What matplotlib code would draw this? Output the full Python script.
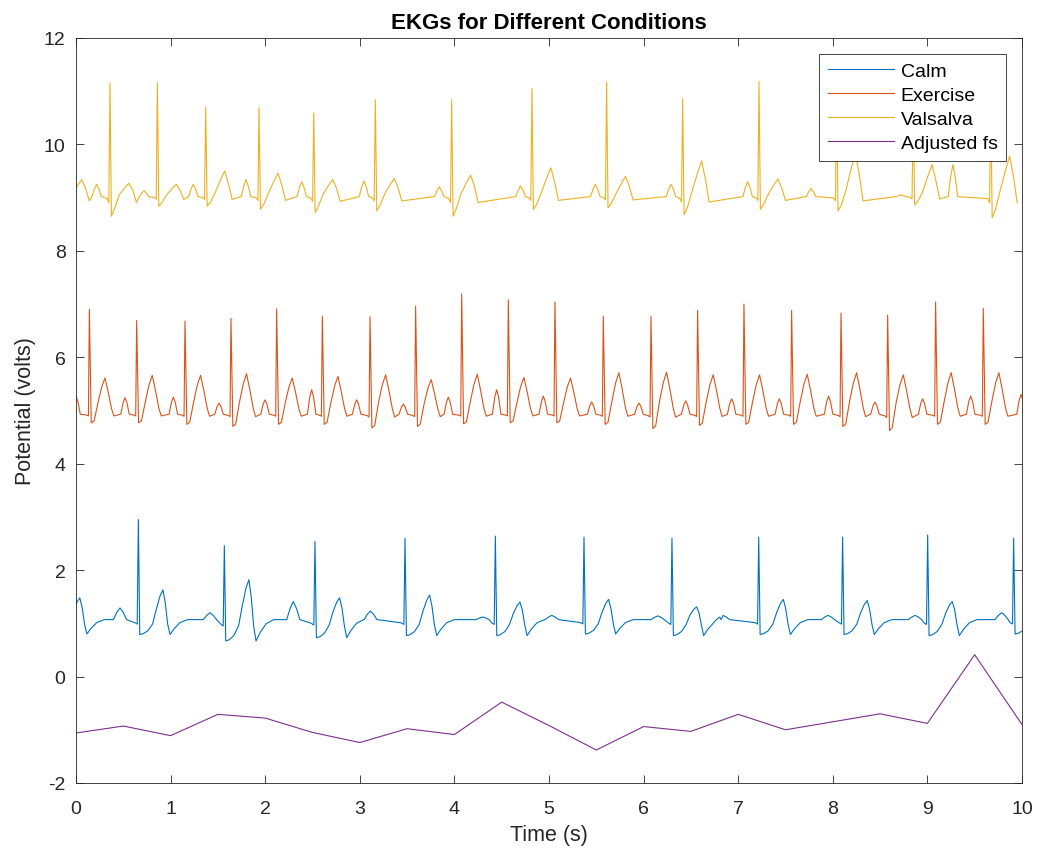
import numpy as np
import matplotlib.pyplot as plt

plt.rcParams['font.family'] = ['Liberation Sans', 'DejaVu Sans']
plt.rcParams['axes.unicode_minus'] = False

# ---- Calm (blue) ----
calm_base = 1.07
calm_r_t = [-0.22, 0.659, 1.568, 2.526, 3.478, 4.433, 5.370, 6.300, 7.217, 8.104, 9.003, 9.912]
calm_r_v = [2.60, 2.95, 2.46, 2.54, 2.60, 2.64, 2.62, 2.60, 2.62, 2.62, 2.66, 2.60]
calm_s_v = [0.80, 0.79, 0.67, 0.73, 0.77, 0.77, 0.80, 0.77, 0.79, 0.79, 0.77, 0.80]
calm_t_v = [1.48, 1.63, 1.82, 1.48, 1.53, 1.40, 1.45, 1.31, 1.45, 1.43, 1.41, 1.40]
calm_p_t = [-0.45, 0.465, 1.416, 2.297, 3.112, 4.300, 5.030, 6.150, 6.840, 7.950, 8.870, 9.785]
calm_p_v = [1.10, 1.29, 1.20, 1.41, 1.23, 1.12, 1.15, 1.14, 1.15, 1.15, 1.15, 1.20]

# ---- Exercise (orange) ----
ex_base = 4.93
ex_r_t = [0.141, 0.641, 1.152, 1.638, 2.121, 2.604, 3.108, 3.590, 4.077, 4.570, 5.063,
          5.574, 6.078, 6.571, 7.061, 7.565, 8.087, 8.580, 9.087, 9.591, 10.12]
ex_r_v = [6.90, 6.69, 6.68, 6.73, 6.91, 6.77, 6.76, 6.96, 7.19, 7.08, 7.04,
          6.77, 6.77, 6.88, 7.00, 6.88, 6.83, 6.79, 7.04, 6.92, 6.90]
ex_s_v = [4.77, 4.77, 4.74, 4.70, 4.74, 4.74, 4.67, 4.70, 4.75, 4.77, 4.77,
          4.74, 4.66, 4.72, 4.74, 4.74, 4.70, 4.62, 4.74, 4.74, 4.75]
ex_t_v = [5.61, 5.66, 5.66, 5.69, 5.61, 5.64, 5.67, 5.58, 5.68, 5.62, 5.61,
          5.71, 5.72, 5.67, 5.67, 5.68, 5.71, 5.67, 5.71, 5.71, 5.65]
ex_p_t = [0.000, 0.518, 1.029, 1.512, 1.998, 2.491, 2.967, 3.460, 3.936, 4.447, 4.940,
          5.451, 5.951, 6.445, 6.931, 7.435, 7.956, 8.446, 8.950, 9.458, 9.990]
ex_p_v = [5.27, 5.24, 5.25, 5.14, 5.20, 5.39, 5.20, 5.12, 5.25, 5.39, 5.27,
          5.16, 5.14, 5.18, 5.22, 5.22, 5.27, 5.16, 5.22, 5.27, 5.30]

# ---- Valsalva (yellow) ----
va_base = 9.02
va_r_t = [-0.14, 0.359, 0.860, 1.371, 1.935, 2.513, 3.164, 3.971, 4.820, 5.609, 6.413,
          7.220, 8.040, 8.850, 9.670]
va_r_v = [11.00, 11.16, 11.16, 10.70, 10.69, 10.59, 10.84, 10.84, 11.05, 11.17, 10.86,
          11.18, 10.90, 10.80, 10.90]
va_s_v = [8.75, 8.65, 8.84, 8.84, 8.78, 8.72, 8.75, 8.65, 8.78, 8.81, 8.68,
          8.78, 8.75, 8.87, 8.62]
va_t_v = [9.34, 9.27, 9.25, 9.50, 9.46, 9.34, 9.36, 9.42, 9.56, 9.40, 9.69,
          9.35, 9.85, 9.62, 9.78]
va_p_t = [-0.30, 0.218, 0.719, 1.240, 1.797, 2.386, 3.044, 3.840, 4.700, 5.490, 6.290,
          7.100, 7.770, 8.720, 9.270]
va_p_v = [9.10, 9.25, 9.13, 9.25, 9.34, 9.30, 9.31, 9.20, 9.22, 9.25, 9.25,
          9.30, 9.17, 9.05, 9.62]

# ---- Adjusted fs (purple), sampled every 0.5 s ----
fs_t = [0, 0.5, 1, 1.5, 2, 2.5, 3, 3.5, 4, 4.5, 5, 5.5, 6, 6.5, 7, 7.5, 8, 8.5, 9, 9.5, 10]
fs_v = [-1.06, -0.93, -1.11, -0.71, -0.78, -1.05, -1.24, -0.98, -1.09, -0.48, -0.92,
        -1.38, -0.94, -1.03, -0.71, -1.00, -0.85, -0.70, -0.88, 0.41, -0.90]

# beat outlines: (time offset, which level, fraction of that level above baseline)
calm_qrst = [(-0.04, 's', 0.2), (-0.012, 's', 0.3), (0, 'r', 1), (0.015, 's', 1),
             (0.05, 's', 0.95), (0.10, 's', 0.75), (0.15, 's', 0.3), (0.19, 't', 0.35),
             (0.23, 't', 0.8), (0.26, 't', 1), (0.285, 't', 0.55), (0.31, 's', 0.3),
             (0.335, 's', 1), (0.38, 's', 0.6), (0.44, 's', 0.2), (0.52, 's', 0)]
calm_pw = [(-0.07, 0), (-0.035, 0.6), (0, 1), (0.035, 0.6), (0.07, 0)]

ex_qrst = [(-0.03, 's', 0.1), (-0.01, 's', 0.2), (0, 'r', 1), (0.02, 's', 1),
           (0.05, 's', 0.8), (0.09, 't', 0.3), (0.13, 't', 0.75), (0.165, 't', 1),
           (0.20, 't', 0.6), (0.235, 't', 0.15), (0.26, 's', 0.2)]
ex_pw = [(-0.045, 0), (-0.02, 0.7), (0, 1), (0.02, 0.7), (0.045, 0)]

va_qrst = [(-0.03, 's', 0.1), (-0.012, 's', 0.3), (0, 'r', 1), (0.015, 's', 1),
           (0.05, 's', 0.6), (0.10, 't', 0.15), (0.15, 't', 0.6), (0.20, 't', 1),
           (0.24, 't', 0.5), (0.28, 's', 0.3)]
va_pw = [(-0.05, 0), (-0.025, 0.6), (0, 1), (0.025, 0.6), (0.05, 0)]


def ekg(base, r_t, r_v, s_v, t_v, p_t, p_v, qrst, pw):
    tt, vv = [], []
    for i in range(len(r_t)):
        lev = {'r': r_v[i], 's': s_v[i], 't': t_v[i]}
        for dt, f in pw:
            tt.append(p_t[i] + dt)
            vv.append(base + f * (p_v[i] - base))
        for dt, k, f in qrst:
            tt.append(r_t[i] + dt)
            vv.append(base + f * (lev[k] - base))
    idx = np.argsort(tt)
    return np.array(tt)[idx], np.array(vv)[idx]


fig = plt.figure(figsize=(10.37, 8.53), dpi=100)
ax = fig.add_axes([0.0733, 0.0809, 0.9122, 0.8734])

lw = 0.8
x, y = ekg(calm_base, calm_r_t, calm_r_v, calm_s_v, calm_t_v, calm_p_t, calm_p_v, calm_qrst, calm_pw)
ax.plot(x, y, color='#0072BD', lw=lw, label='Calm')
x, y = ekg(ex_base, ex_r_t, ex_r_v, ex_s_v, ex_t_v, ex_p_t, ex_p_v, ex_qrst, ex_pw)
ax.plot(x, y, color='#D95319', lw=lw, label='Exercise')
x, y = ekg(va_base, va_r_t, va_r_v, va_s_v, va_t_v, va_p_t, va_p_v, va_qrst, va_pw)
ax.plot(x, y, color='#EDB120', lw=lw, label='Valsalva')
ax.plot(fs_t, fs_v, color='#7E2F8E', lw=lw, label='Adjusted fs')

ax.set_xlim(0, 10)
ax.set_ylim(-2, 12)
ax.set_xticks(range(0, 11))
ax.set_yticks(range(-2, 13, 2))
ax.tick_params(direction='in', top=True, right=True, length=6, width=0.6,
               labelsize=14, colors='#262626')
ax.tick_params(axis='x', pad=12)
ax.tick_params(axis='y', pad=7.5)
for s in ax.spines.values():
    s.set_color('#262626')
    s.set_linewidth(0.6)

ax.set_title('EKGs for Different Conditions', fontsize=16, fontweight='bold', pad=7)
ax.set_xlabel('Time (s)', fontsize=15.5, color='#262626', labelpad=5)
ax.set_ylabel('Potential (volts)', fontsize=15.5, color='#262626', labelpad=6)

leg = ax.legend(loc='upper right', fontsize=14, frameon=True, fancybox=False,
                framealpha=1, edgecolor='#262626', borderpad=0.45, labelspacing=0.33,
                handlelength=3.4, handletextpad=0.35, borderaxespad=0.8)
leg.get_frame().set_linewidth(0.6)

fig.savefig('out.png', dpi=100)
